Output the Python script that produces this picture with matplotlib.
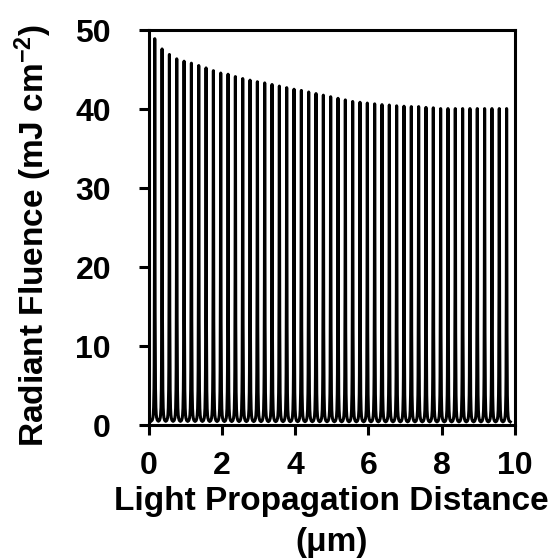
import numpy as np
import matplotlib
matplotlib.use('Agg')
import matplotlib.pyplot as plt

plt.rcParams['font.family'] = ['Liberation Sans', 'DejaVu Sans']
plt.rcParams['font.weight'] = 'bold'
plt.rcParams['mathtext.fontset'] = 'custom'
plt.rcParams['mathtext.rm'] = 'Liberation Sans:bold'
plt.rcParams['mathtext.default'] = 'rm'

# peak positions (um) and peak fluence (mJ cm-2)
peak_x = [0.17, 0.37, 0.57, 0.77, 0.97, 1.17, 1.37, 1.57, 1.77, 1.97,
          2.17, 2.37, 2.57, 2.77, 2.97, 3.17, 3.37, 3.57, 3.77, 3.97,
          4.17, 4.37, 4.57, 4.77, 4.97, 5.17, 5.37, 5.57, 5.77, 5.97,
          6.17, 6.37, 6.57, 6.77, 6.97, 7.17, 7.37, 7.57, 7.77, 7.97,
          8.17, 8.37, 8.57, 8.77, 8.97, 9.17, 9.37, 9.57, 9.77]
peak_h = [48.9, 47.6, 46.9, 46.35, 46.05, 45.8, 45.5, 45.2, 44.85, 44.55,
          44.4, 44.1, 43.85, 43.65, 43.45, 43.3, 43.1, 42.9, 42.7, 42.5,
          42.35, 42.15, 41.95, 41.75, 41.55, 41.35, 41.15, 40.95, 40.85, 40.75,
          40.65, 40.55, 40.5, 40.4, 40.35, 40.3, 40.3, 40.2, 40.15, 40.05,
          40.05, 40.05, 40.05, 40.05, 40.05, 40.05, 40.05, 40.05, 40.05]

# shape of one resonance spike: offset from peak (um) and fraction of peak height
spike_dx = [-0.1, -0.07, -0.05, -0.04, -0.03, -0.02, -0.015, -0.01, -0.0075, -0.005, 0.0,
            0.005, 0.0075, 0.01, 0.015, 0.02, 0.03, 0.04, 0.05, 0.07]
spike_lv = [0.010, 0.0124, 0.0196, 0.028, 0.046, 0.095, 0.155, 0.29, 0.42, 0.62, 1.0,
            0.62, 0.42, 0.29, 0.155, 0.095, 0.046, 0.028, 0.0196, 0.0124]

xs = []
ys = []
for px, ph in zip(peak_x, peak_h):
    for dx, lv in zip(spike_dx, spike_lv):
        xs.append(px + dx)
        ys.append(ph * lv)
# close the last spike
xs.append(peak_x[-1] - spike_dx[0])
ys.append(peak_h[-1] * spike_lv[0])

fig = plt.figure(figsize=(5.55, 5.59), dpi=100)
ax = fig.add_axes([0.2676, 0.2397, 0.6604, 0.7066])
ax.plot(xs, ys, color='black', linewidth=2.2, solid_joinstyle='round')

ax.set_xlim(0, 10)
ax.set_ylim(0, 50)
ax.set_xticks([0, 2, 4, 6, 8, 10])
ax.set_yticks([0, 10, 20, 30, 40, 50])
for s in ax.spines.values():
    s.set_linewidth(2.2)
ax.tick_params(direction='out', length=7, width=2.2, labelsize=23)
ax.tick_params(axis='y', pad=20)
ax.tick_params(axis='x', pad=12)
ax.set_xlabel('Light Propagation Distance\n(\u03bcm)', fontsize=24, fontweight='bold',
              labelpad=3, linespacing=1.42)
ax.set_ylabel('Radiant Fluence (mJ cm$^{-2}$)', fontsize=24, fontweight='bold')
ax.yaxis.set_label_coords(-0.258, 0.48)

plt.savefig('out.png', dpi=100)
